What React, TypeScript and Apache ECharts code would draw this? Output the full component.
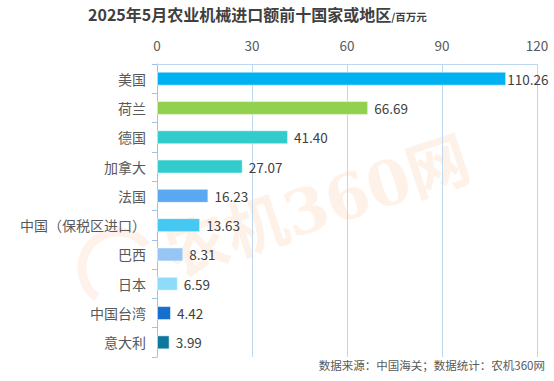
import React, { useEffect, useRef } from "react";
import * as echarts from "echarts";

const categories = ["美国", "荷兰", "德国", "加拿大", "法国", "中国（保税区进口）", "巴西", "日本", "中国台湾", "意大利"];
const values = [110.26, 66.69, 41.4, 27.07, 16.23, 13.63, 8.31, 6.59, 4.42, 3.99];
const colors = ["#00b0f0", "#92d050", "#33cccc", "#33cccc", "#5aa8f0", "#45c8f2", "#98c6f4", "#8edcfa", "#156fcc", "#0f789e"];
const xTicks = [0, 30, 60, 90, 120];

export default function App() {
  const ref = useRef<HTMLDivElement>(null);
  useEffect(() => {
    if (!ref.current) return;
    const chart = echarts.init(ref.current, null, { renderer: "svg" });
    const font = "'Noto Sans CJK SC', 'Noto Sans', sans-serif";
    chart.setOption({
      animation: false,
      backgroundColor: "#ffffff",
      textStyle: { fontFamily: font },
      grid: { left: 157, right: 17, top: 64, bottom: 24 },
      xAxis: {
        type: "value",
        position: "top",
        min: xTicks[0],
        max: xTicks[xTicks.length - 1],
        interval: 30,
        axisLine: { show: true, lineStyle: { color: "#bdd7ee", width: 1 } },
        axisTick: { show: false },
        splitLine: { show: true, lineStyle: { color: "#bdd7ee", width: 1 } },
        axisLabel: { color: "#595959", fontSize: 13.5, margin: 12, fontFamily: font },
      },
      yAxis: {
        type: "category",
        inverse: true,
        data: categories,
        axisLine: { show: true, lineStyle: { color: "#9dc3e6", width: 1 } },
        axisTick: { show: true, length: 5, lineStyle: { color: "#9dc3e6" } },
        axisLabel: { color: "#595959", fontSize: 14, margin: 11, fontFamily: font },
      },
      series: [
        {
          type: "bar",
          barWidth: 14,
          data: values.map((v, i) => ({
            value: v,
            itemStyle: { color: colors[i], borderColor: "rgba(255,255,255,0.5)", borderWidth: 1 },
            label: i === 0 ? { distance: 1 } : undefined,
          })),
          label: {
            show: true,
            position: "right",
            distance: 6,
            color: "#404040",
            fontSize: 13.5,
            fontFamily: font,
            formatter: (p: any) => Number(p.value).toFixed(2),
          },
          z: 3,
        },
      ],
      graphic: [
        {
          type: "text",
          left: 88,
          top: 6,
          style: {
            text: "{a|2025年5月农业机械进口额前十国家或地区}{b|/百万元}",
            rich: {
              a: { fontSize: 16, fontWeight: "bold", fill: "#404040", fontFamily: font },
              b: { fontSize: 10.5, fontWeight: "bold", fill: "#404040", fontFamily: font, verticalAlign: "bottom", padding: [6, 0, 0, 0] },
            },
          },
        },
        {
          type: "text",
          right: 9,
          top: 359,
          style: { text: "数据来源：中国海关；数据统计：农机360网", fontSize: 11.5, fill: "#595959", fontFamily: font },
        },
        {
          type: "text",
          x: 318,
          y: 207,
          rotation: 0.32,
          z: 0,
          silent: true,
          style: {
            text: "农机360网",
            fontSize: 62,
            fontWeight: "bold",
            fontFamily: "'DejaVu Serif', 'Noto Sans CJK SC', serif",
            fill: "rgba(245,140,60,0.12)",
            align: "center",
            verticalAlign: "middle",
          },
        },
        {
          type: "arc",
          z: 0,
          silent: true,
          shape: { cx: 118, cy: 268, r: 36, startAngle: 2.2, endAngle: 5.6 },
          style: { stroke: "rgba(245,140,60,0.11)", lineWidth: 9, fill: "none" },
        },
      ],
    });
    return () => chart.dispose();
  }, []);
  return <div ref={ref} style={{ position: "fixed", left: 0, top: 0, width: 554, height: 381 }} />;
}
